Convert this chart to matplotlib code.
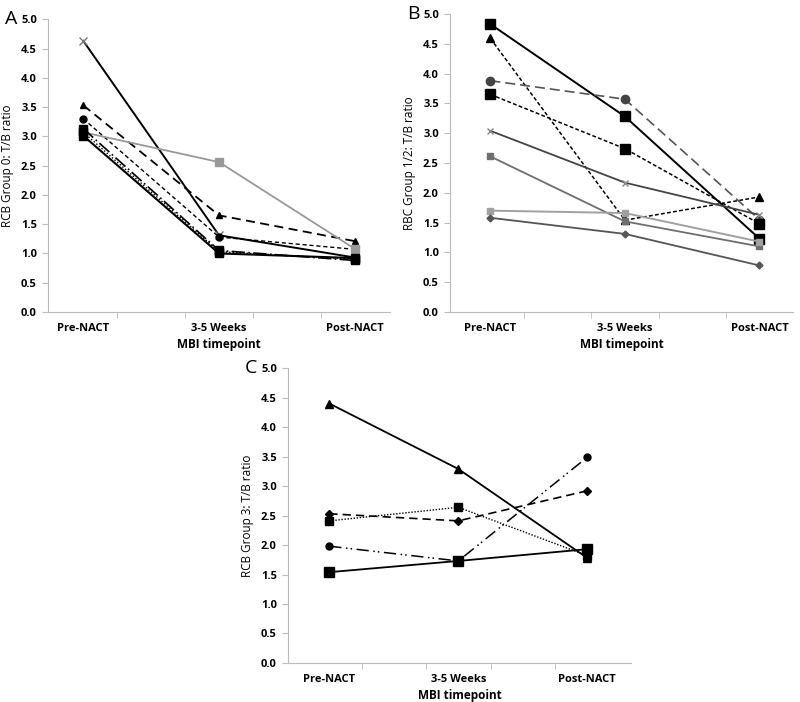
import matplotlib.pyplot as plt
from matplotlib.ticker import MultipleLocator, FixedLocator

plt.rcParams['font.family'] = ['Open Sans', 'DejaVu Sans']

timepoints = ['Pre-NACT', '3-5 Weeks', 'Post-NACT']

# panel A - RCB group 0
group0_values = [
    [4.63, 1.31, 0.93],
    [3.53, 1.65, 1.21],
    [3.30, 1.28, 1.07],
    [3.07, 2.56, 1.08],
    [3.13, 1.05, 0.88],
    [3.07, 1.03, 0.90],
    [3.01, 1.00, 0.92],
]
group0_styles = [
    dict(color='black', ls='-', marker='x', mec='#777777', ms=6, lw=1.4),
    dict(color='black', ls=(0, (5, 3)), marker='^', ms=5, lw=1.3),
    dict(color='black', ls=(0, (3, 2)), marker='o', ms=5, lw=1.0),
    dict(color='#999999', ls='-', marker='s', ms=5.5, lw=1.3),
    dict(color='black', ls=(0, (8, 2, 1, 2)), marker='s', ms=5.5, lw=1.2),
    dict(color='black', ls=(0, (1, 1.5)), marker='s', ms=5.5, lw=1.0),
    dict(color='black', ls='-', marker='s', ms=5.5, lw=1.5),
]

# panel B - RCB group 1/2
group12_values = [
    [4.83, 3.28, 1.23],
    [4.59, 1.54, 1.93],
    [3.88, 3.57, 1.55],
    [3.65, 2.74, 1.48],
    [3.04, 2.17, 1.63],
    [2.61, 1.52, 1.10],
    [1.70, 1.66, 1.18],
    [1.58, 1.31, 0.78],
]
group12_styles = [
    dict(color='black', ls='-', marker='s', ms=6.5, lw=1.4),
    dict(color='black', ls=(0, (2.5, 1.5)), marker='^', ms=5.5, lw=1.1),
    dict(color='#555555', mec='#444444', mfc='#444444', ls=(0, (6, 3)), marker='o', ms=6, lw=1.2),
    dict(color='black', ls=(0, (2.5, 1.5)), marker='s', ms=6.5, lw=1.1),
    dict(color='#444444', mec='#888888', ls='-', marker='x', ms=5, lw=1.3),
    dict(color='#6e6e6e', ls='-', marker='s', ms=5, lw=1.3),
    dict(color='#a0a0a0', ls='-', marker='s', ms=5, lw=1.4),
    dict(color='#555555', ls='-', marker='D', ms=3.5, lw=1.3),
]

# panel C - RCB group 3
group3_values = [
    [4.40, 3.29, 1.78],
    [2.53, 2.41, 2.92],
    [2.41, 2.64, 1.82],
    [1.98, 1.73, 3.49],
    [1.54, 1.73, 1.93],
]
group3_styles = [
    dict(color='black', ls='-', marker='^', ms=6, lw=1.3),
    dict(color='black', ls=(0, (5, 3)), marker='D', ms=4.5, lw=1.2),
    dict(color='black', ls=(0, (1, 1.2)), marker='s', ms=6, lw=1.0),
    dict(color='black', ls=(0, (8, 3, 1, 2, 1, 3)), marker='o', ms=5, lw=1.1),
    dict(color='black', ls='-', marker='s', ms=7, lw=1.3),
]

panels = [
    ('A', 'RCB Group 0: T/B ratio', group0_values, group0_styles,
     [0.06, 0.5556, 0.4275, 0.417], (-0.26, 2.26)),
    ('B', 'RBC Group 1/2: T/B ratio', group12_values, group12_styles,
     [0.5625, 0.5556, 0.4288, 0.4245], (-0.3, 2.25)),
    ('C', 'RCB Group 3: T/B ratio', group3_values, group3_styles,
     [0.36, 0.0556, 0.429, 0.42], (-0.32, 2.34)),
]

fig = plt.figure(figsize=(8, 7.02), dpi=100)
x = range(len(timepoints))

for letter, ylabel, values, styles, rect, xlim in panels:
    ax = fig.add_axes(rect)
    for vals, st in zip(values, styles):
        ax.plot(x, vals, **st)
    ax.set_xlim(*xlim)
    ax.set_ylim(0, 5)
    ax.yaxis.set_major_locator(MultipleLocator(0.5))
    ax.yaxis.set_major_formatter(plt.FuncFormatter(lambda v, p: f'{v:.1f}'))
    ax.set_xticks(list(x))
    ax.set_xticklabels(timepoints)
    ax.xaxis.set_minor_locator(FixedLocator([0.25, 0.75, 1.25, 1.75]))
    ax.tick_params(axis='x', which='major', length=0, pad=8)
    ax.tick_params(axis='x', which='minor', length=4, color='#bbbbbb')
    ax.tick_params(axis='y', length=4, color='#bbbbbb', pad=4)
    for lab in ax.get_xticklabels() + ax.get_yticklabels():
        lab.set_fontsize(8)
        lab.set_fontweight('bold')
    ax.spines['top'].set_visible(False)
    ax.spines['right'].set_visible(False)
    ax.spines['left'].set_color('#bbbbbb')
    ax.spines['bottom'].set_color('#bbbbbb')
    ax.set_ylabel(ylabel, fontsize=8.5, labelpad=5)
    ax.set_xlabel('MBI timepoint', fontsize=8.5, fontweight='bold', labelpad=3)
    ax.text(-0.125, 1.0, letter, transform=ax.transAxes, fontsize=14,
            ha='left', va='center')

fig.savefig('out.png', dpi=100, facecolor='white')
